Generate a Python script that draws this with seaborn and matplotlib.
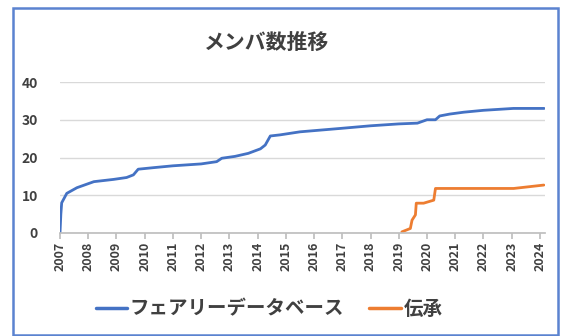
import pandas as pd
import seaborn as sns
import matplotlib.pyplot as plt
from matplotlib.patches import Rectangle

# member counts (x = fractional year)
fairy_year = [2007.0, 2007.03, 2007.06, 2007.24, 2007.6, 2008.2, 2008.9, 2009.36, 2009.6,
              2009.77, 2010.3, 2011.0, 2012.0, 2012.55, 2012.73, 2013.2, 2013.67, 2014.1,
              2014.27, 2014.45, 2014.8, 2015.5, 2016.93, 2018.0, 2019.0, 2019.66, 2020.0,
              2020.3, 2020.45, 2020.8, 2021.3, 2022.0, 2023.06, 2024.15]
fairy_val = [0, 5, 8, 10.5, 12, 13.6, 14.2, 14.7, 15.4,
             16.9, 17.3, 17.8, 18.3, 18.9, 19.8, 20.3, 21.1, 22.3,
             23.3, 25.7, 26, 26.8, 27.7, 28.4, 28.9, 29.1, 30,
             30, 31, 31.5, 32, 32.5, 33, 33]
den_year = [2019.11, 2019.41, 2019.47, 2019.59, 2019.62, 2019.88, 2020.24, 2020.3,
            2023.07, 2024.14]
den_val = [0.3, 1.2, 3.4, 4.8, 7.9, 7.9, 8.7, 11.8, 11.8, 12.7]
series_names = ['フェアリーデータベース', '伝承']
year_ticks = list(range(2007, 2025))

df = pd.concat([
    pd.DataFrame({'year': fairy_year, 'count': fairy_val, 'series': series_names[0]}),
    pd.DataFrame({'year': den_year, 'count': den_val, 'series': series_names[1]}),
])

sns.set_theme(style='white')
plt.rcParams['font.family'] = ['Noto Sans CJK JP', 'DejaVu Sans']

fig = plt.figure(figsize=(5.62, 3.36), dpi=100)
fig.patches.append(Rectangle((13 / 562, 0.004), 545 / 562, 1 - 8 / 336 - 0.004,
                             transform=fig.transFigure, fill=False,
                             edgecolor='#5B83D0', linewidth=1.8))
ax = fig.add_axes([60 / 562, 1 - 233 / 336, 485 / 562, 151 / 336])

sns.lineplot(data=df, x='year', y='count', hue='series', estimator=None,
             palette=['#4472C4', '#ED7D31'], linewidth=2, ax=ax)

ax.set_xlim(2007, 2024.18)
ax.set_ylim(0, 40)
ax.set_xticks(year_ticks)
ax.set_xticklabels([str(y) for y in year_ticks], rotation=90, fontsize=9,
                   color='#404040', fontweight='bold')
ax.set_yticks([0, 10, 20, 30, 40])
ax.set_yticklabels(['0', '10', '20', '30', '40'], fontsize=10, color='#404040',
                   fontweight='bold')
ax.tick_params(axis='y', length=0, pad=16)
ax.tick_params(axis='x', length=4, color='#BFBFBF', bottom=True, pad=2)
ax.grid(axis='y', color='#D9D9D9', linewidth=1)
ax.set_axisbelow(True)
for s in ['top', 'right', 'left']:
    ax.spines[s].set_visible(False)
ax.spines['bottom'].set_color('#BFBFBF')
ax.set_xlabel('')
ax.set_ylabel('')

fig.text(0.475, 1 - 42 / 336, 'メンバ数推移', ha='center', va='center',
         fontsize=15, color='#404040', fontweight='bold')

handles, labels = ax.get_legend_handles_labels()
for h in handles:
    h.set_linewidth(2.5)
ax.legend(handles, labels, loc='center', bbox_to_anchor=(269 / 562, 1 - 309 / 336),
          bbox_transform=fig.transFigure, ncol=2, frameon=False,
          prop={'size': 14, 'weight': 'bold'},
          handlelength=1.6, handletextpad=0.15, columnspacing=1.3, labelcolor='#404040')

fig.savefig('out.png', dpi=100)
